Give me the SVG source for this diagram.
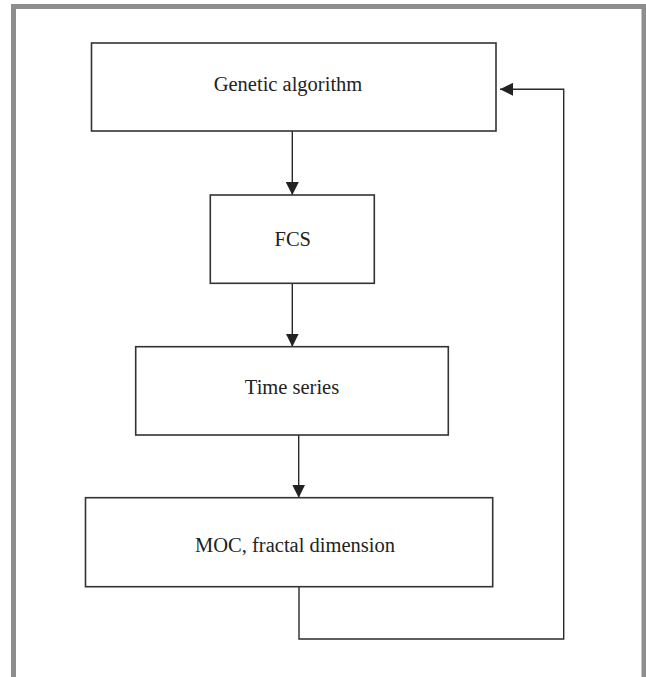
<svg xmlns="http://www.w3.org/2000/svg" width="646" height="677" viewBox="0 0 646 677">
<style>
.box{fill:#fff;stroke:#333;stroke-width:1.6}
.lbl{font-family:"Liberation Serif","Times New Roman",serif;font-size:20.5px;fill:#222;text-anchor:middle}
.ln{fill:none;stroke:#2a2a2a;stroke-width:1.4}
</style>
<defs>
<marker id="ah" markerWidth="13" markerHeight="13" viewBox="0 0 13 13" refX="13" refY="6.5" orient="auto" markerUnits="userSpaceOnUse">
<path d="M0,0 L13,6.5 L0,13 Z" fill="#222"/>
</marker>
</defs>
<rect x="13.5" y="6.5" width="630.5" height="700" fill="none" stroke="#8e8e8e" stroke-width="5"/>
<g id="connectors">
<line class="ln" x1="292.3" y1="131" x2="292.3" y2="195" marker-end="url(#ah)"/>
<line class="ln" x1="292.3" y1="283.3" x2="292.3" y2="346.7" marker-end="url(#ah)"/>
<line class="ln" x1="298.7" y1="435" x2="298.7" y2="497.7" marker-end="url(#ah)"/>
<polyline class="ln" points="299,586.7 299,639 563.7,639 563.7,89.3 500,89.3" marker-end="url(#ah)"/>
</g>
<g id="node-genetic">
<rect class="box" x="91.5" y="43" width="404.5" height="88"/>
<text class="lbl" x="288" y="90.7">Genetic algorithm</text>
</g>
<g id="node-fcs">
<rect class="box" x="210.3" y="195" width="164" height="88.3"/>
<text class="lbl" x="292.8" y="246">FCS</text>
</g>
<g id="node-timeseries">
<rect class="box" x="135.7" y="346.7" width="312.6" height="88.3"/>
<text class="lbl" x="292" y="394">Time series</text>
</g>
<g id="node-moc">
<rect class="box" x="85.5" y="497.7" width="407.2" height="89"/>
<text class="lbl" x="295" y="551.7">MOC, fractal dimension</text>
</g>
</svg>
